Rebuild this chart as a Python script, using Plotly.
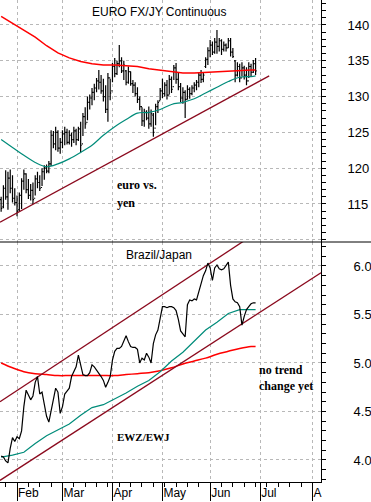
import pandas as pd
import plotly.graph_objects as go

# ---------------- data ----------------
DATES = pd.bdate_range("2009-01-22", periods=113)

EUR_HIGH = [116.0,117.6,119.7,119.5,119.8,119.0,117.2,116.2,116.6,118.6,119.8,119.3,118.5,117.8,118.0,119.0,119.5,119.0,120.0,120.4,
            120.5,121.0,125.3,125.2,125.8,125.3,124.2,125.3,125.8,125.5,125.3,125.0,125.8,125.5,125.8,126.5,127.7,128.5,130.0,130.3,
            131.2,131.8,132.6,133.7,133.0,132.5,131.6,133.3,132.5,134.7,135.4,135.0,137.2,135.5,135.0,133.7,134.2,133.5,132.3,132.0,
            131.3,130.0,128.5,128.3,128.1,128.6,128.2,127.7,129.0,129.5,131.2,132.5,132.0,132.3,133.0,132.8,134.4,134.7,133.3,131.9,
            131.3,130.9,131.6,131.3,131.6,132.0,132.3,133.3,133.7,133.3,135.5,136.9,137.9,137.7,138.2,139.3,138.2,138.0,137.7,137.4,
            138.2,138.2,136.8,135.1,134.8,134.6,134.8,134.3,134.1,134.8,134.6,135.1,135.4]
EUR_LOW = [113.9,114.4,115.6,114.2,116.5,115.2,114.8,113.3,114.0,114.3,117.0,116.5,115.7,115.5,115.0,116.2,117.2,116.8,117.5,118.4,
           119.3,119.3,120.3,122.8,122.5,122.3,122.0,122.8,123.2,123.3,123.3,123.0,123.5,123.2,123.8,122.2,124.5,125.5,126.7,128.2,
           128.8,129.5,130.6,131.0,130.4,129.3,127.7,126.5,129.5,132.0,132.7,133.0,134.1,133.3,132.3,131.6,131.8,131.5,130.5,130.0,
           129.1,128.1,125.9,125.8,126.7,125.5,125.8,124.4,126.0,127.7,129.5,129.8,130.0,129.6,130.3,130.5,132.3,131.8,130.9,129.2,
           129.0,127.0,129.6,129.7,130.2,130.6,130.9,131.3,131.9,132.0,134.0,134.4,135.5,135.8,136.0,136.0,136.3,135.8,136.3,136.3,
           136.8,135.6,135.4,132.0,132.8,132.0,132.8,132.4,131.6,132.6,132.8,133.3,133.0]
EUR_OPEN = [115.6,114.6,117.2,116.0,118.6,117.2,115.8,115.2,114.2,116.2,118.2,119.2,117.0,116.2,116.9,115.8,118.5,118.0,117.3,119.5,
            120.0,119.6,120.6,124.6,123.4,125.0,122.8,123.6,124.8,125.0,123.6,124.6,124.0,125.2,124.0,125.5,123.4,127.2,126.4,129.2,
            129.8,130.6,131.2,132.2,132.0,130.8,130.0,128.2,132.6,130.8,134.2,133.2,134.6,135.0,133.6,133.6,132.0,133.5,131.8,131.6,
            130.4,129.6,128.6,126.6,127.8,127.0,126.2,127.4,125.6,128.6,129.4,130.8,130.4,131.6,130.2,132.4,131.4,134.0,132.4,131.4,
            129.8,130.6,129.6,131.0,130.4,131.2,131.6,132.0,133.0,132.4,134.2,135.2,136.4,137.2,136.2,137.6,137.0,137.8,136.6,137.2,
            136.8,137.8,136.2,135.0,133.0,134.2,132.6,134.0,133.0,132.2,134.2,133.4,134.6]
EUR_CLOSE = [114.4,117.2,116.0,118.6,117.2,115.8,115.2,114.0,116.2,118.2,119.2,117.0,116.2,116.9,115.6,118.5,118.0,117.2,119.5,120.0,
             119.6,120.6,124.6,123.4,125.0,122.8,123.6,124.8,125.0,123.6,124.6,124.0,125.2,124.0,125.5,123.2,127.2,126.2,129.2,129.8,
             130.6,131.2,132.2,132.0,130.8,130.0,128.2,132.6,130.5,134.2,133.2,134.6,135.0,133.6,134.4,132.0,133.5,131.8,131.6,130.4,
             129.6,128.6,126.6,127.8,127.0,126.2,127.6,125.0,128.6,129.2,130.8,130.4,131.6,130.2,132.4,131.0,134.0,132.4,131.4,129.8,
             130.6,129.6,131.0,130.4,131.2,131.6,132.0,133.0,132.4,133.0,135.2,136.4,137.2,136.2,137.6,137.0,137.8,136.6,137.2,136.8,
             137.8,136.2,135.6,133.0,134.2,132.6,134.0,133.0,132.2,134.2,133.4,134.6,133.6]

RATIO = [4.04,4.03,3.99,3.97,4.12,4.23,4.19,4.24,4.22,4.30,4.55,4.72,4.67,4.62,4.66,4.80,4.86,4.68,4.70,4.55,
         4.45,4.39,4.50,4.62,4.74,4.70,4.48,4.55,4.68,4.71,4.74,4.86,4.92,4.96,5.08,4.98,4.88,4.87,4.87,4.90,
         4.98,4.96,4.93,4.89,4.86,4.82,4.75,4.80,4.86,5.03,5.12,5.15,5.15,5.17,5.22,5.28,5.22,5.17,5.16,5.16,
         5.14,5.00,5.05,5.03,5.10,5.06,5.00,5.20,5.29,5.34,5.46,5.58,5.58,5.57,5.58,5.58,5.57,5.54,5.45,5.33,
         5.30,5.27,5.60,5.65,5.64,5.66,5.65,5.74,5.80,5.90,5.95,6.03,5.98,5.85,5.98,6.01,5.97,5.96,5.97,6.00,
         6.04,5.80,5.66,5.63,5.62,5.58,5.39,5.48,5.55,5.58,5.61,5.62,5.62]

MA_POS = list(range(0, 111, 5)) + [112]
EUR_MA50 = [124.0,122.9,121.8,120.8,120.2,120.6,121.3,122.2,123.2,124.6,125.8,126.8,127.7,127.8,128.2,128.9,
            129.2,129.7,130.5,131.3,132.1,132.7,132.8,132.9]
EUR_MA200 = [141.2,140.2,139.3,138.3,137.1,136.1,135.4,134.9,134.6,134.4,134.4,134.3,134.2,133.9,133.7,133.5,
             133.3,133.3,133.4,133.5,133.6,133.7,133.7,133.7]
RATIO_MA50 = [4.03,4.05,4.08,4.17,4.25,4.31,4.37,4.46,4.54,4.57,4.63,4.69,4.76,4.82,4.91,5.02,
              5.11,5.23,5.34,5.42,5.51,5.55,5.55,5.55]
RATIO_MA200 = [5.00,4.95,4.91,4.89,4.88,4.87,4.87,4.87,4.87,4.87,4.87,4.88,4.89,4.90,4.92,4.95,
               4.99,5.02,5.05,5.09,5.12,5.15,5.17,5.17]

# trend / channel lines (end points)
EUR_TREND_X = ["2009-01-21 12:00", "2009-07-07"]
EUR_TREND_Y = [112.46, 132.9]
CH_UP_X = ["2009-01-21 12:00", "2009-07-07"]
CH_UP_Y = [4.60, 6.43]
CH_LO_X = ["2009-01-21 12:00", "2009-08-06 19:00"]
CH_LO_Y = [3.79, 5.93]

MONTH_TICKS = ["2009-02-02", "2009-03-02", "2009-04-01", "2009-05-01", "2009-06-01", "2009-07-01", "2009-08-03"]
MONTH_LABELS = ["Feb", "Mar", "Apr", "May", "Jun", "Jul", "A"]
X_RANGE = ["2009-01-21 12:00", "2009-08-06 19:00"]
EUR_TICKS = [110, 115, 120, 125, 130, 135, 140]
EUR_TICK_LABELS = ["", "115", "120", "125", "130", "135", "140"]

# ---------------- figure ----------------
ma_dates = [DATES[i] for i in MA_POS]
RED = "#ff0000"
TEAL = "#008c7a"
MAROON = "#8b0a1e"
GRID = "#b8b8b8"
SANS = "Liberation Sans, Arial, sans-serif"
SERIF = "Liberation Serif, Times New Roman, serif"

fig = go.Figure()
fig.add_trace(go.Ohlc(x=DATES, open=EUR_OPEN, high=EUR_HIGH, low=EUR_LOW, close=EUR_CLOSE,
                      xaxis="x", yaxis="y", tickwidth=0.5,
                      increasing=dict(line=dict(color="black", width=1.2)),
                      decreasing=dict(line=dict(color="black", width=1.2)),
                      showlegend=False, hoverinfo="skip"))
fig.add_trace(go.Scatter(x=ma_dates, y=EUR_MA200, mode="lines", line=dict(color=RED, width=1.5),
                         xaxis="x", yaxis="y", showlegend=False))
fig.add_trace(go.Scatter(x=ma_dates, y=EUR_MA50, mode="lines", line=dict(color=TEAL, width=1.2, shape="spline"),
                         xaxis="x", yaxis="y", showlegend=False))
fig.add_trace(go.Scatter(x=EUR_TREND_X, y=EUR_TREND_Y, mode="lines", line=dict(color=MAROON, width=1.3),
                         xaxis="x", yaxis="y", showlegend=False))

fig.add_trace(go.Scatter(x=ma_dates, y=RATIO_MA200, mode="lines", line=dict(color=RED, width=1.5, shape="spline"),
                         xaxis="x2", yaxis="y2", showlegend=False))
fig.add_trace(go.Scatter(x=ma_dates, y=RATIO_MA50, mode="lines", line=dict(color=TEAL, width=1.2),
                         xaxis="x2", yaxis="y2", showlegend=False))
fig.add_trace(go.Scatter(x=CH_UP_X, y=CH_UP_Y, mode="lines", line=dict(color=MAROON, width=1.3),
                         xaxis="x2", yaxis="y2", showlegend=False))
fig.add_trace(go.Scatter(x=CH_LO_X, y=CH_LO_Y, mode="lines", line=dict(color=MAROON, width=1.3),
                         xaxis="x2", yaxis="y2", showlegend=False))
fig.add_trace(go.Scatter(x=DATES, y=RATIO, mode="lines", line=dict(color="black", width=1.2),
                         xaxis="x2", yaxis="y2", showlegend=False))

split = 240 / 482
xcommon = dict(type="date", range=X_RANGE, rangebreaks=[dict(bounds=["sat", "mon"])],
               tickmode="array", tickvals=MONTH_TICKS, showgrid=True, gridcolor=GRID, griddash="3px,3px",
               gridwidth=1, zeroline=False, fixedrange=True)
fig.update_layout(
    width=371, height=502,
    margin=dict(l=0, r=50, t=0, b=20),
    paper_bgcolor="white", plot_bgcolor="white",
    showlegend=False,
    font=dict(family=SANS, size=12, color="black"),
    xaxis=dict(**xcommon, anchor="y", domain=[0, 1], showticklabels=False, ticks="",
               rangeslider=dict(visible=False)),
    xaxis2=dict(**xcommon, anchor="y2", domain=[0, 1], matches="x",
                ticktext=MONTH_LABELS, ticks="outside", ticklen=18, tickcolor="black", tickwidth=1,
                showline=True, linecolor="black", linewidth=1,
                ticklabelposition="outside right", tickfont=dict(size=12, family=SANS, color="black"),
                minor=dict(tickmode="linear", tick0="2009-01-26", dtick=7 * 86400000, ticks="outside",
                           ticklen=4, tickcolor="black", showgrid=False)),
    yaxis=dict(domain=[split, 1], anchor="x", side="right", range=[109.69, 143.49],
               tickmode="array", tickvals=EUR_TICKS, ticktext=EUR_TICK_LABELS,
               showgrid=True, gridcolor=GRID, griddash="3px,3px",
               zeroline=False, showline=True, linecolor="black", linewidth=1,
               ticks="outside", ticklen=4, tickcolor="black", ticklabelstandoff=19,
               tickfont=dict(size=13, family=SANS, color="black"), fixedrange=True,
               minor=dict(tickmode="linear", tick0=110, dtick=1, ticks="outside", ticklen=4,
                          tickcolor="black", showgrid=False)),
    yaxis2=dict(domain=[0, split], anchor="x2", side="right", range=[3.773, 6.247],
                tickmode="linear", tick0=4.0, dtick=0.5, tickformat=".1f",
                showgrid=True, gridcolor=GRID, griddash="3px,3px",
                zeroline=False, showline=True, linecolor="black", linewidth=1,
                ticks="outside", ticklen=4, tickcolor="black", ticklabelstandoff=25,
                tickfont=dict(size=13, family=SANS, color="black"), fixedrange=True,
                minor=dict(tickmode="linear", tick0=3.8, dtick=0.1, ticks="outside", ticklen=4,
                           tickcolor="black", showgrid=False)),
)

fig.add_shape(type="line", xref="paper", yref="paper", x0=0, x1=371 / 321, y0=split, y1=split,
              line=dict(color="black", width=1))

def note(text, px, py, size=12, family=SERIF, bold=True, anchor="left"):
    fig.add_annotation(text=("<b>%s</b>" % text) if bold else text, xref="paper", yref="paper",
                       x=px / 321, y=(482 - py) / 482, xanchor=anchor, yanchor="middle",
                       showarrow=False, font=dict(size=size, family=family, color="black"))

note("EURO FX/JY Continuous", 159, 12, size=12, family=SANS, bold=False, anchor="center")
note("Brazil/Japan", 159, 255, size=12, family=SANS, bold=False, anchor="center")
note("euro vs.", 115, 185)
note("yen", 115, 203)
note("EWZ/EWJ", 115, 437, size=11)
note("no trend", 257, 370)
note("change yet", 257, 386)

fig.write_html("out.html", config={"displayModeBar": False, "staticPlot": True},
               post_script="document.body.style.margin='0';document.body.style.overflow='hidden';")
